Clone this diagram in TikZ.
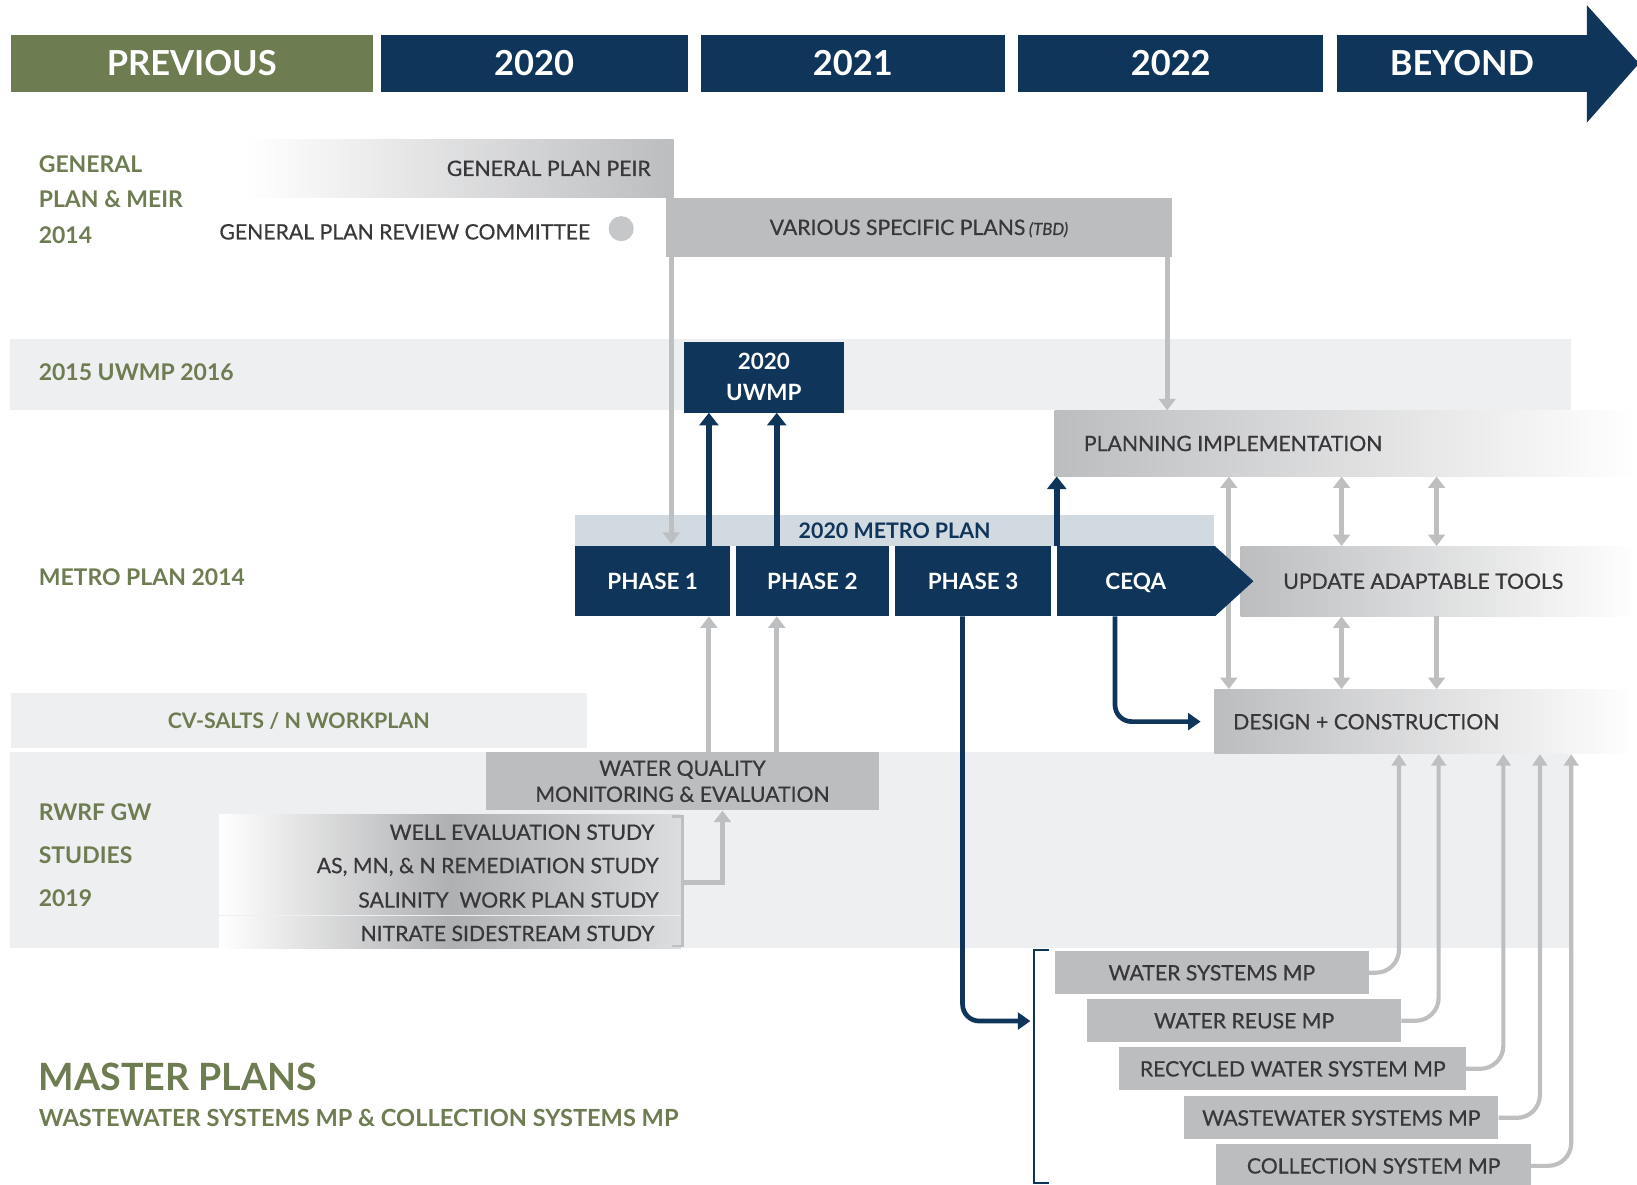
\documentclass[tikz,border=0pt]{standalone}
\usepackage{fontspec}
\setmainfont{Lato}
\newfontfamily\medfont[FakeBold=0.6]{Lato}
\usepackage{xcolor}
\usetikzlibrary{positioning,arrows.meta}

\definecolor{navy}{HTML}{10355A}
\definecolor{olive}{HTML}{6E7C51}
\definecolor{band}{HTML}{EEEFF0}
\definecolor{boxgray}{HTML}{BCBDBF}
\definecolor{arrgray}{HTML}{BEBFC1}
\definecolor{dotgray}{HTML}{C6C7C9}
\definecolor{metroband}{HTML}{D1D9E1}
\definecolor{txtgray}{HTML}{38383A}
\definecolor{stmid}{HTML}{AFB0B2}
\definecolor{stright}{HTML}{DCDDDE}

\tikzset{
  sz/.style 2 args={minimum width=#1pt, minimum height=#2pt, inner sep=0pt, anchor=north west},
  hdr/.style={text=white, font=\fontsize{33}{36}\selectfont\bfseries, text depth=0pt},
  grn/.style={text=olive, font=\fontsize{22}{24}\selectfont\bfseries, anchor=west, inner sep=0pt, text depth=0pt},
  txt/.style={text=txtgray, font=\fontsize{20.3}{24}\medfont, inner sep=0pt, text depth=0pt},
  wtxt/.style={text=white, font=\fontsize{21.5}{24}\selectfont\bfseries, text depth=0pt},
  fade/.style={left color=boxgray, right color=white},
  studyfade/.style={left color=white, right color=stright, middle color=stmid},
  grayarr/.style={draw=arrgray, line width=5pt, -{Triangle[width=16pt,length=11pt]}},
  grayboth/.style={draw=arrgray, line width=5pt, {Triangle[width=16pt,length=11pt]}-{Triangle[width=16pt,length=11pt]}},
  navyarr/.style={draw=navy, line width=6pt, -{Triangle[width=18pt,length=12pt]}},
  navybend/.style={draw=navy, line width=4.5pt, rounded corners=16pt, -{Triangle[width=16pt,length=12pt]}},
  mparr/.style={draw=arrgray, line width=4pt, rounded corners=22pt, -{Triangle[width=14pt,length=11pt]}},
  mpbox/.style={fill=boxgray, sz={301}{41}, txt}
}

\begin{document}
\begin{tikzpicture}[x=1pt,y=-1pt]
  \useasboundingbox (0,0) rectangle (1568,1135);

  \node[sz={347}{55}, fill=olive, hdr] (Prev) at (10,33) {PREVIOUS};
  \node[sz={294}{55}, fill=navy, hdr, right=7pt of Prev] (Y2020) {2020};
  \node[sz={292}{55}, fill=navy, hdr, right=12pt of Y2020] (Y2021) {2021};
  \node[sz={292}{55}, fill=navy, hdr, right=12pt of Y2021] (Y2022) {2022};
  \node[sz={239}{55}, fill=navy, hdr, right=13pt of Y2022] (Bey) {BEYOND};
  \fill[navy] ([yshift=28pt]Bey.north east) -- ([xshift=50pt]Bey.east) -- ([yshift=-29pt]Bey.south east) -- cycle;

  \fill[band] (10,325) rectangle (1505,393);
  \fill[band] (10,720) rectangle (1505,908);

  \node[grn] (GpA) at (37,157) {GENERAL};
  \node[grn] (GpB) at (37,191) {PLAN \& MEIR};
  \node[grn] (GpC) at (37,225) {2014};
  \node[grn] (UwLbl) at (37,356) {2015 UWMP 2016};
  \node[grn] (MpLbl) at (37,553) {METRO PLAN 2014};
  \node[grn] (RwA) at (37,778) {RWRF GW};
  \node[grn] (RwB) at (37,819) {STUDIES};
  \node[grn] (RwC) at (37,860) {2019};

  \node[sz={410}{56}, left color=white, right color=boxgray] (Peir) at (235,133) {};
  \node[txt, anchor=east] at ([xshift=-22pt]Peir.east) {GENERAL PLAN PEIR};
  \node[txt, anchor=west] (Gprc) at (210,222) {GENERAL PLAN REVIEW COMMITTEE};
  \node[circle, fill=dotgray, minimum size=24pt, inner sep=0pt] (Dot) at (595,219) {};
  \node[sz={484}{57}, fill=boxgray, txt] (Vsp) at (638,189) {VARIOUS SPECIFIC PLANS\,\textit{\fontsize{16}{18}\selectfont(TBD)}};

  \node[sz={153}{68}, fill=navy, wtxt, align=center, font=\fontsize{21.5}{30}\selectfont\bfseries] (Uwmp) at (655,327) {2020\\UWMP};

  \node[sz={558}{63}, fade] (Plan) at (1010,393) {};
  \node[txt, anchor=west] at ([xshift=28pt]Plan.west) {PLANNING IMPLEMENTATION};

  \fill[metroband] (551,493) rectangle (1163,523);
  \node[text=navy, font=\fontsize{20.5}{24}\selectfont\bfseries, inner sep=0pt] (MetroLbl) at (857,508) {2020 METRO PLAN};
  \node[sz={148}{67}, fill=navy, wtxt] (Ph1) at (551,523) {PHASE 1};
  \node[sz={147}{67}, fill=navy, wtxt, right=5pt of Ph1] (Ph2) {PHASE 2};
  \node[sz={150}{67}, fill=navy, wtxt, right=5pt of Ph2] (Ph3) {PHASE 3};
  \node[sz={151}{67}, fill=navy, wtxt, right=5pt of Ph3] (Ceqa) {CEQA};

  \node[sz={380}{67}, fade] (Upd) at (1188,523) {};
  \node[txt, anchor=west] at ([xshift=41pt]Upd.west) {UPDATE ADAPTABLE TOOLS};
  \node[sz={405}{62}, fade] (Des) at (1163,660) {};
  \node[txt, anchor=west] at ([xshift=18pt]Des.west) {DESIGN + CONSTRUCTION};

  \node[sz={552}{52}, fill=band, text=olive, font=\fontsize{20.5}{24}\selectfont\bfseries] (Cv) at (10,664) {CV-SALTS / N WORKPLAN};
  \node[sz={377}{56}, fill=boxgray, txt, align=center, font=\fontsize{20.3}{25}\medfont] (Wq) at (465,720) {WATER QUALITY\\MONITORING \& EVALUATION};

  \node[sz={442}{96}, studyfade] (St1) at (210,780) {};
  \node[sz={442}{30}, studyfade] (St2) at (210,878) {};
  \node[txt, anchor=east] at (627,797) {WELL EVALUATION STUDY};
  \node[txt, anchor=east] at (631,829) {AS, MN, \& N REMEDIATION STUDY};
  \node[txt, anchor=east] at (631,862) {SALINITY\ \ WORK PLAN STUDY};
  \node[txt, anchor=east] at (627,894) {NITRATE SIDESTREAM STUDY};
  \draw[arrgray, line width=2.5pt] (644,782) -| (654,906) -- (644,906);
  \coordinate (StB) at (654,845);

  \node[mpbox] (Wsmp) at (1010,911) {WATER SYSTEMS MP};
  \node[mpbox] (Wrmp) at (1041,957) {WATER REUSE MP};
  \node[mpbox, sz={332}{41}] (Rwmp) at (1072,1003) {RECYCLED WATER SYSTEM MP};
  \node[mpbox] (Wwmp) at (1134,1050) {WASTEWATER SYSTEMS MP};
  \node[mpbox] (Csmp) at (1165,1096) {COLLECTION SYSTEM MP};
  \draw[navy, line width=2pt] (1005,910) -| (990,1133) -- (1005,1133);
  \coordinate (MpIn) at (987,978);

  \node[grn, font=\fontsize{36}{40}\selectfont\bfseries] (MpTitle) at (37,1031) {MASTER PLANS};
  \node[grn, font=\fontsize{22.6}{24}\selectfont\bfseries] (MpSub) at (37,1071) {WASTEWATER SYSTEMS MP \& COLLECTION SYSTEMS MP};

  \coordinate (xA) at (643,0);
  \coordinate (xB) at (1118,0);
  \coordinate (xC) at (679,0);
  \coordinate (xD) at (744,0);
  \coordinate (xE) at (1177,0);
  \coordinate (xF) at (1285,0);
  \coordinate (xG) at (1376,0);
  \coordinate (xH) at (922,0);
  \coordinate (xI) at (1068,0);
  \coordinate (xJ) at (692,0);

  \draw[grayarr] (Vsp.south -| xA) -- ([yshift=2pt]Ph1.north -| xA);
  \draw[grayarr] (Vsp.south -| xB) -- (Plan.north -| xB);
  \draw[navyarr] (Ph1.north -| xC) -- (Uwmp.south -| xC);
  \draw[navyarr] (Ph2.north -| xD) -- (Uwmp.south -| xD);
  \draw[navyarr] (Ceqa.north west) -- (Plan.south -| Ceqa.north west);
  \draw[grayarr] (Wq.north -| xC) -- (Ph1.south -| xC);
  \draw[grayarr] (Wq.north -| xD) -- (Ph2.south -| xD);
  \draw[grayarr] (StB) -| (Wq.south -| xJ);

  \draw[grayboth] (Plan.south -| xE) -- (Des.north -| xE);
  \draw[grayboth] (Plan.south -| xF) -- (Upd.north -| xF);
  \draw[grayboth] (Plan.south -| xG) -- (Upd.north -| xG);
  \draw[grayboth] (Upd.south -| xF) -- (Des.north -| xF);
  \draw[grayarr] (Upd.south -| xG) -- (Des.north -| xG);
  \fill[navy] (Ceqa.north east) -- ([xshift=37pt]Ceqa.east) -- (Ceqa.south east) -- cycle;

  \draw[navybend] (Ph3.south -| xH) |- (MpIn);
  \draw[navybend] (Ceqa.south -| xI) |- ([xshift=-13pt]Des.west);

  \coordinate (m1) at (1340,0);
  \coordinate (m2) at (1378,0);
  \coordinate (m3) at (1440,0);
  \coordinate (m4) at (1475,0);
  \coordinate (m5) at (1505,0);
  \draw[mparr] (Wsmp.east) -| (Des.south -| m1);
  \draw[mparr] (Wrmp.east) -| (Des.south -| m2);
  \draw[mparr] (Rwmp.east) -| (Des.south -| m3);
  \draw[mparr] (Wwmp.east) -| (Des.south -| m4);
  \draw[mparr] (Csmp.east) -| (Des.south -| m5);
\end{tikzpicture}
\end{document}
